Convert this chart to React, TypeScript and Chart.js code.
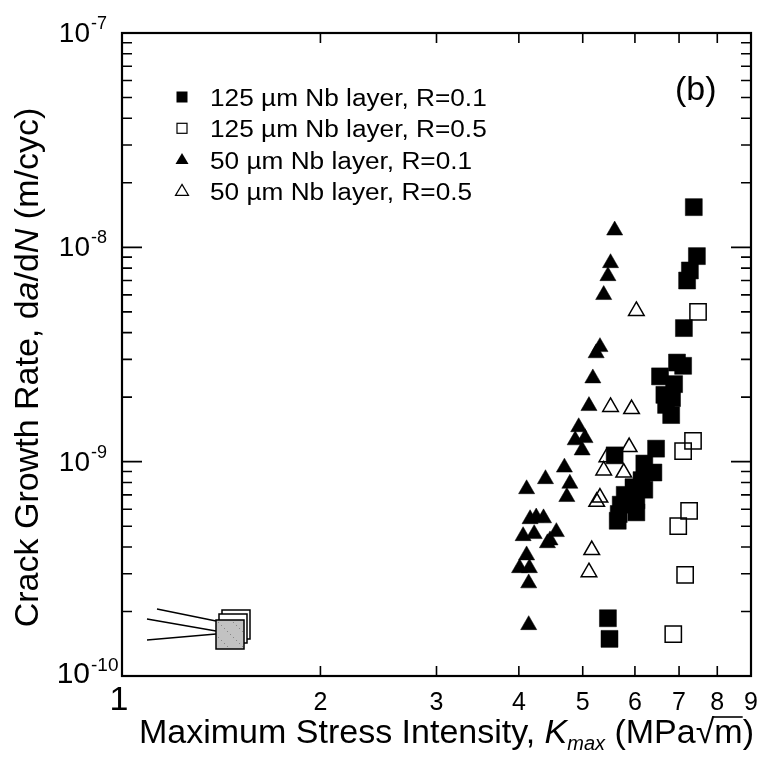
import React, { useEffect, useRef } from 'react';
import { Chart, registerables } from 'chart.js';

Chart.register(...registerables);

const FONT = "'Liberation Sans', Arial, Helvetica, sans-serif";
const CANVAS_W = 756;
const CANVAS_H = 747;

const seriesLabels = [
  '125 µm Nb layer, R=0.1',
  '125 µm Nb layer, R=0.5',
  '50 µm Nb layer, R=0.1',
  '50 µm Nb layer, R=0.5',
];

// 125 µm Nb layer, R=0.1 (filled squares)
const kmax125R01 = [7.37, 7.45, 7.27, 7.2, 7.12, 6.95, 7.1, 6.55, 6.88, 6.65, 6.83, 6.69, 6.81, 6.46, 5.59, 6.2, 6.4, 6.14, 5.97, 6.2, 5.79, 6.03, 5.71, 5.67, 6.03, 5.65, 5.46, 5.49];
const rate125R01 = [1.54e-8, 9.1e-9, 7.8e-9, 7.0e-9, 4.2e-9, 2.9e-9, 2.8e-9, 2.5e-9, 2.3e-9, 2.05e-9, 1.98e-9, 1.84e-9, 1.65e-9, 1.15e-9, 1.07e-9, 9.8e-10, 8.9e-10, 8.2e-10, 7.6e-10, 7.4e-10, 7.0e-10, 6.6e-10, 6.3e-10, 5.7e-10, 5.8e-10, 5.3e-10, 1.86e-10, 1.49e-10];

// 125 µm Nb layer, R=0.5 (open squares)
const kmax125R05 = [7.48, 7.35, 7.1, 7.25, 6.98, 7.15, 6.86];
const rate125R05 = [5.0e-9, 1.25e-9, 1.12e-9, 5.9e-10, 5.0e-10, 2.96e-10, 1.57e-10];

// 50 µm Nb layer, R=0.1 (filled triangles)
const kmax50R01 = [5.59, 5.51, 5.46, 5.38, 5.31, 5.24, 5.18, 5.11, 4.93, 4.87, 5.04, 4.99, 4.69, 4.39, 4.78, 4.11, 4.73, 4.16, 4.25, 4.36, 4.06, 4.22, 4.56, 4.46, 4.42, 4.11, 4.01, 4.15, 4.14, 4.14];
const rate50R01 = [1.2e-8, 8.45e-9, 7.35e-9, 6.0e-9, 3.43e-9, 3.21e-9, 2.45e-9, 1.82e-9, 1.45e-9, 1.26e-9, 1.29e-9, 1.13e-9, 9.4e-10, 8.3e-10, 7.9e-10, 7.45e-10, 6.85e-10, 5.4e-10, 5.5e-10, 5.45e-10, 4.5e-10, 4.6e-10, 4.7e-10, 4.3e-10, 4.17e-10, 3.66e-10, 3.19e-10, 3.19e-10, 2.71e-10, 1.73e-10];

// 50 µm Nb layer, R=0.5 (open triangles)
const kmax50R05 = [6.03, 5.51, 5.93, 5.88, 5.44, 5.38, 5.77, 5.31, 5.25, 5.16, 5.11];
const rate50R05 = [5.05e-9, 1.8e-9, 1.76e-9, 1.17e-9, 1.05e-9, 9.1e-10, 8.9e-10, 6.8e-10, 6.5e-10, 3.87e-10, 3.05e-10];

const xMin = 1;
const xMax = 9;
const yMin = 1e-10;
const yMax = 1e-7;
const xTickValues = [2, 3, 4, 5, 6, 7, 8];
const xLabelValues = [1, 2, 3, 4, 5, 6, 7, 8, 9];
const xLabelTexts = ['1', '2', '3', '4', '5', '6', '7', '8', '9'];
const yDecadeValues = [1e-7, 1e-8, 1e-9, 1e-10];
const yDecadeExponents = ['-7', '-8', '-9', '-10'];
const yMinorMultipliers = [1, 2, 3, 4, 5, 6, 7, 8, 9];

const toPoints = (xs: number[], ys: number[]) => xs.map((x, i) => ({ x, y: ys[i] }));

type Run = { t: string; f: string; dy?: number; over?: boolean };

function measureRuns(ctx: CanvasRenderingContext2D, runs: Run[]) {
  let w = 0;
  for (const r of runs) {
    ctx.font = r.f;
    w += ctx.measureText(r.t).width;
  }
  return w;
}

function drawRuns(ctx: CanvasRenderingContext2D, runs: Run[], x: number, y: number) {
  let cx = x;
  ctx.textAlign = 'left';
  ctx.textBaseline = 'alphabetic';
  for (const r of runs) {
    ctx.font = r.f;
    const w = ctx.measureText(r.t).width;
    ctx.fillText(r.t, cx, y + (r.dy || 0));
    if (r.over) {
      ctx.save();
      ctx.lineWidth = 1.6;
      ctx.beginPath();
      ctx.moveTo(cx - 1, y - 26);
      ctx.lineTo(cx + w, y - 26);
      ctx.stroke();
      ctx.restore();
    }
    cx += w;
  }
}

function stretchText(ctx: CanvasRenderingContext2D, s: string, x: number, y: number, font: string, sx: number, align: CanvasTextAlign = 'left') {
  ctx.save();
  ctx.font = font;
  ctx.textAlign = align;
  ctx.textBaseline = 'alphabetic';
  ctx.translate(x, y);
  ctx.scale(sx, 1);
  ctx.fillText(s, 0, 0);
  ctx.restore();
}

const decorPlugin = {
  id: 'decor',
  afterDraw(chart: any) {
    const { ctx, chartArea: a, scales } = chart;
    const xs = scales.x;
    const ys = scales.y;
    ctx.save();
    ctx.strokeStyle = '#000';
    ctx.fillStyle = '#000';

    // tick marks (inward)
    ctx.lineWidth = 1.6;
    ctx.beginPath();
    for (const v of xTickValues) {
      const px = xs.getPixelForValue(v);
      ctx.moveTo(px, a.bottom);
      ctx.lineTo(px, a.bottom - 10);
      ctx.moveTo(px, a.top);
      ctx.lineTo(px, a.top + 10);
    }
    for (const d of [1e-10, 1e-9, 1e-8]) {
      for (const m of yMinorMultipliers) {
        if (m === 1 && d === 1e-10) continue;
        const py = ys.getPixelForValue(m * d);
        const len = m === 1 ? 20 : 10;
        ctx.moveTo(a.left, py);
        ctx.lineTo(a.left + len, py);
        ctx.moveTo(a.right, py);
        ctx.lineTo(a.right - len, py);
      }
    }
    ctx.stroke();

    // frame
    ctx.lineWidth = 2.2;
    ctx.strokeRect(a.left, a.top, a.right - a.left, a.bottom - a.top);

    // x tick labels
    xLabelValues.forEach((v, i) => {
      const px = xs.getPixelForValue(v);
      const big = i === 0;
      ctx.font = `${big ? 34 : 25}px ${FONT}`;
      ctx.textAlign = 'center';
      ctx.textBaseline = 'alphabetic';
      ctx.fillText(xLabelTexts[i], px - (big ? 3 : 0), a.bottom + 34);
    });

    // y tick labels 10^n
    yDecadeValues.forEach((v, i) => {
      const py = ys.getPixelForValue(v);
      const last = i === yDecadeValues.length - 1;
      ctx.font = `${last ? 30 : 28}px ${FONT}`;
      ctx.textAlign = 'right';
      ctx.textBaseline = 'alphabetic';
      ctx.fillText('10', a.left - 32, py + (last ? 7 : 9));
      ctx.font = `${last ? 19 : 18}px ${FONT}`;
      ctx.textAlign = 'left';
      ctx.fillText(yDecadeExponents[i], a.left - 31, py + (last ? -5 : -4));
    });

    // x axis title
    const xRuns: Run[] = [
      { t: 'Maximum Stress Intensity, ', f: `34px ${FONT}` },
      { t: 'K', f: `italic 34px ${FONT}` },
      { t: 'max', f: `italic 20px ${FONT}`, dy: 7 },
      { t: ' (MPa', f: `34px ${FONT}` },
      { t: '√', f: `34px ${FONT}` },
      { t: 'm', f: `34px ${FONT}`, over: true },
      { t: ')', f: `34px ${FONT}` },
    ];
    const xw = measureRuns(ctx, xRuns);
    drawRuns(ctx, xRuns, (a.left + a.right) / 2 + 10 - xw / 2, a.bottom + 67);

    // y axis title
    const yRuns: Run[] = [
      { t: 'Crack Growth Rate, d', f: `34px ${FONT}` },
      { t: 'a', f: `italic 34px ${FONT}` },
      { t: '/d', f: `34px ${FONT}` },
      { t: 'N', f: `italic 34px ${FONT}` },
      { t: ' (m/cyc)', f: `34px ${FONT}` },
    ];
    const yw = measureRuns(ctx, yRuns);
    ctx.save();
    ctx.translate(a.left - 84, (a.top + a.bottom) / 2 + 13);
    ctx.rotate(-Math.PI / 2);
    drawRuns(ctx, yRuns, -yw / 2, 0);
    ctx.restore();

    // panel label
    ctx.font = `34px ${FONT}`;
    ctx.textAlign = 'left';
    ctx.fillText('(b)', a.right - 76, a.top + 67);

    // legend
    const lx = a.left + 60;
    seriesLabels.forEach((label, i) => {
      const by = a.top + 73 + i * 31.3;
      const cy = by - 9;
      ctx.lineWidth = 1.2;
      if (i < 2) {
        if (i === 0) ctx.fillRect(lx - 5.5, cy - 5.5, 11, 11);
        else ctx.strokeRect(lx - 5, cy - 5, 10, 10);
      } else {
        ctx.beginPath();
        ctx.moveTo(lx, cy - 6.5);
        ctx.lineTo(lx + 6.5, cy + 4.5);
        ctx.lineTo(lx - 6.5, cy + 4.5);
        ctx.closePath();
        if (i === 2) ctx.fill();
        else ctx.stroke();
      }
      stretchText(ctx, label, a.left + 88, by, `23px ${FONT}`, 1.14);
    });

    // laminate schematic inset
    const ix = a.left + 94;
    const iy = a.bottom - 56;
    ctx.lineWidth = 1.4;
    ctx.beginPath();
    ctx.moveTo(ix - 59, iy - 11);
    ctx.lineTo(ix, iy + 1);
    ctx.moveTo(ix - 69, iy - 1);
    ctx.lineTo(ix, iy + 11);
    ctx.moveTo(ix - 69, iy + 20);
    ctx.lineTo(ix, iy + 14);
    ctx.stroke();
    ctx.lineWidth = 1.5;
    ctx.fillStyle = '#fff';
    ctx.fillRect(ix + 6, iy - 10, 28, 29);
    ctx.strokeRect(ix + 6, iy - 10, 28, 29);
    ctx.fillRect(ix + 3, iy - 6, 28, 29);
    ctx.strokeRect(ix + 3, iy - 6, 28, 29);
    ctx.fillStyle = '#c2c2c2';
    ctx.fillRect(ix, iy, 28, 29);
    ctx.fillStyle = '#888';
    for (let gx = 2; gx < 27; gx += 3) {
      for (let gy = 2; gy < 28; gy += 3) {
        if ((gx * 7 + gy * 3) % 5 === 0) ctx.fillRect(ix + gx, iy + gy, 1, 1);
      }
    }
    ctx.strokeRect(ix, iy, 28, 29);

    ctx.restore();
  },
};

export default function App() {
  const canvasRef = useRef<HTMLCanvasElement | null>(null);

  useEffect(() => {
    if (!canvasRef.current) return;
    const chart = new Chart(canvasRef.current, {
      type: 'scatter',
      data: {
        datasets: [
          {
            label: seriesLabels[0],
            data: toPoints(kmax125R01, rate125R01),
            pointStyle: 'rect',
            pointRadius: 12,
            backgroundColor: '#000',
            borderColor: '#000',
            borderWidth: 0.5,
            order: 0,
          },
          {
            label: seriesLabels[1],
            data: toPoints(kmax125R05, rate125R05),
            pointStyle: 'rect',
            pointRadius: 11.5,
            backgroundColor: 'rgba(0,0,0,0)',
            borderColor: '#000',
            borderWidth: 1.5,
            order: 2,
          },
          {
            label: seriesLabels[2],
            data: toPoints(kmax50R01, rate50R01),
            pointStyle: 'triangle',
            pointRadius: 9.3,
            backgroundColor: '#000',
            borderColor: '#000',
            borderWidth: 0.5,
            order: 1,
          },
          {
            label: seriesLabels[3],
            data: toPoints(kmax50R05, rate50R05),
            pointStyle: 'triangle',
            pointRadius: 9,
            backgroundColor: 'rgba(0,0,0,0)',
            borderColor: '#000',
            borderWidth: 1.5,
            order: 3,
          },
        ],
      },
      options: {
        animation: false,
        responsive: false,
        maintainAspectRatio: false,
        devicePixelRatio: 1,
        layout: { padding: { left: 114, top: 25, right: 6, bottom: 79 } },
        scales: {
          x: { type: 'logarithmic', min: xMin, max: xMax, display: false },
          y: { type: 'logarithmic', min: yMin, max: yMax, display: false },
        },
        plugins: {
          legend: { display: false },
          tooltip: { enabled: false },
        },
      },
      plugins: [decorPlugin],
    });
    return () => chart.destroy();
  }, []);

  return (
    <div style={{ width: CANVAS_W, height: CANVAS_H, overflow: 'hidden' }}>
      <canvas
        ref={canvasRef}
        width={CANVAS_W}
        height={CANVAS_H}
        style={{ display: 'block', width: CANVAS_W, height: CANVAS_H }}
      />
    </div>
  );
}
